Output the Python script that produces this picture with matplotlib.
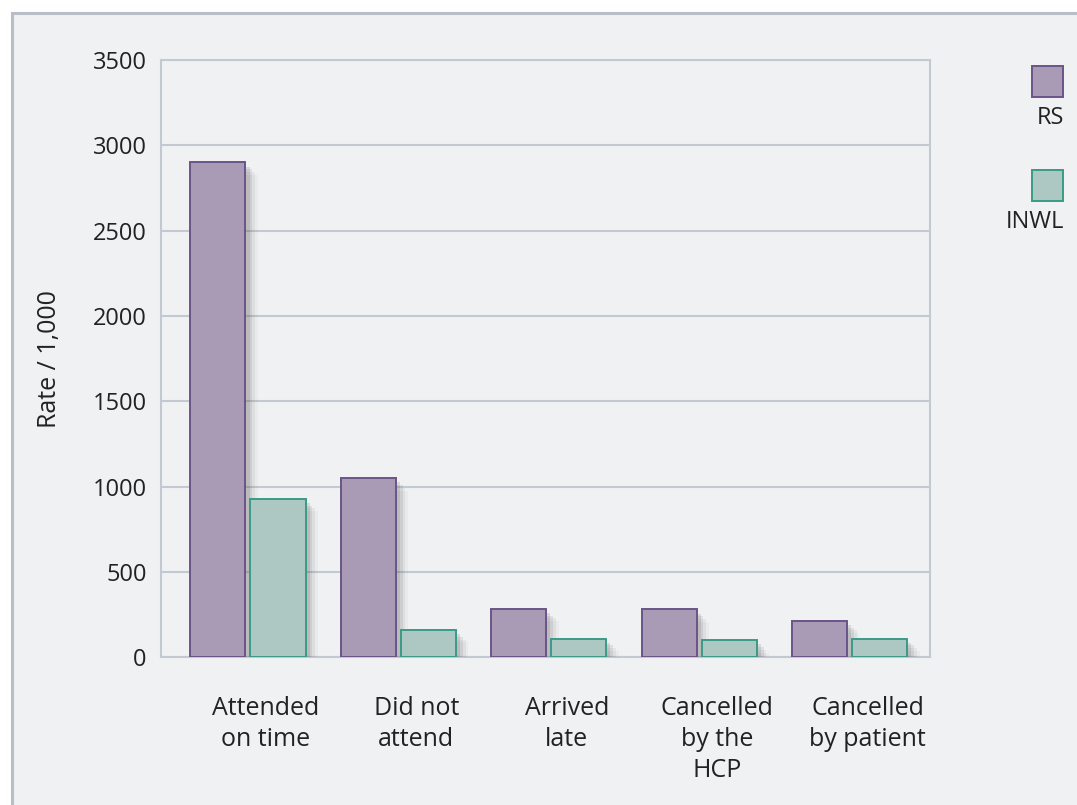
import matplotlib.pyplot as plt
import matplotlib.patheffects as pe
from matplotlib.patches import Rectangle
import numpy as np

plt.rcParams['font.family'] = ['Open Sans', 'DejaVu Sans']

# Appointment outcome rates per 1,000
categories = ['Attended\non time', 'Did not\nattend', 'Arrived\nlate',
              'Cancelled\nby the\nHCP', 'Cancelled\nby patient']
rs_values = [2900, 1050, 285, 280, 215]
inwl_values = [930, 160, 110, 100, 110]
series_names = ['RS', 'INWL']
y_ticks = [0, 500, 1000, 1500, 2000, 2500, 3000, 3500]

bg = '#f0f1f3'
grid_col = '#c3c9d0'
txt = '#222222'
rs_face, rs_edge = '#a99bb6', '#6a5488'
inwl_face, inwl_edge = '#adc8c3', '#3a9a86'

fig = plt.figure(figsize=(10.77, 8.05), dpi=100)
fig.patch.set_facecolor('white')

# light panel with a grey frame on top and left
fig.add_artist(Rectangle((12 / 1077, -0.01), 1.0, (805 - 13) / 805 + 0.01,
                         transform=fig.transFigure, facecolor=bg,
                         edgecolor='#b7bec6', linewidth=2.2, zorder=0))

ax = fig.add_axes([0.1492, 0.1835, 0.714, 0.742])
ax.set_facecolor(bg)

x = np.arange(len(categories))
w = 0.366
# soft drop shadow built from a few stacked offsets
shadow = [pe.SimplePatchShadow(offset=(o, -o), shadow_rgbFace='#4a4a4a', alpha=a)
          for o, a in [(9, 0.04), (7, 0.07), (5, 0.10), (3, 0.14)]] + [pe.Normal()]

ax.bar(x - 0.2, rs_values, w, color=rs_face, edgecolor=rs_edge,
       linewidth=1.4, zorder=3, path_effects=shadow)
ax.bar(x + 0.2, inwl_values, w, color=inwl_face, edgecolor=inwl_edge,
       linewidth=1.4, zorder=3, path_effects=shadow)

ax.set_xlim(-0.58, 4.533)
ax.set_ylim(0, 3500)
ax.set_yticks(y_ticks)
ax.set_yticklabels([str(v) for v in y_ticks], fontsize=17, color=txt)
ax.yaxis.grid(True, color=grid_col, linewidth=1.5, zorder=0)
ax.tick_params(axis='y', length=0, pad=10)
ax.set_xticks(x + 0.12)
ax.set_xticklabels(categories, fontsize=18, color=txt, linespacing=1.3)
ax.tick_params(axis='x', length=0, pad=28)
for s in ax.spines.values():
    s.set_color(grid_col)
    s.set_linewidth(1.5)

ax.set_ylabel('Rate / 1,000', fontsize=18, color=txt)
ax.yaxis.set_label_coords(-0.128, 0.5)

# legend: swatch above its label, right aligned
for i, (name, fc, ec) in enumerate([(series_names[0], rs_face, rs_edge),
                                    (series_names[1], inwl_face, inwl_edge)]):
    top = 66 + i * 104.5
    fig.add_artist(Rectangle((1032 / 1077, 1 - (top + 31) / 805), 31 / 1077, 31 / 805,
                             transform=fig.transFigure, facecolor=fc,
                             edgecolor=ec, linewidth=1.4))
    fig.text(1064 / 1077, 1 - (top + 52) / 805, name, ha='right', va='center',
             fontsize=17, color=txt)

fig.savefig('out.png', dpi=100, facecolor=fig.get_facecolor())
